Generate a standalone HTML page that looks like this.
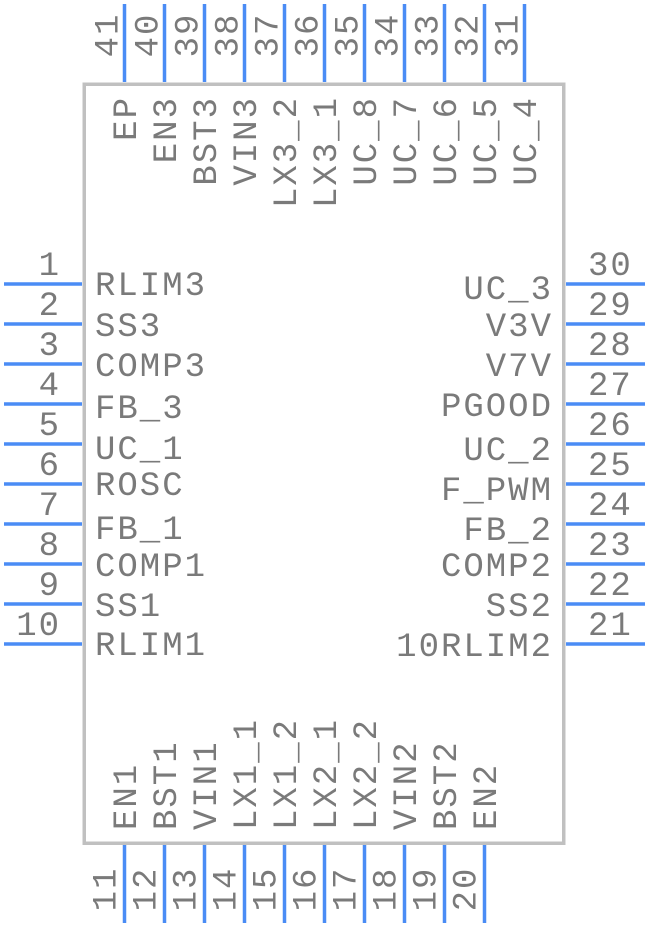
<!DOCTYPE html>
<html>
<head>
<meta charset="utf-8">
<style>
  html,body{margin:0;padding:0;background:#fff;}
  svg{display:block;}
  text{font-family:"Liberation Mono","DejaVu Sans Mono",monospace;font-size:34px;fill:#7a7a7a;letter-spacing:2px;}
</style>
</head>
<body>
<svg width="648" height="928" viewBox="0 0 648 928" xmlns="http://www.w3.org/2000/svg">
  <rect x="84.25" y="84.25" width="479.5" height="759" fill="none" stroke="#c0c0c0" stroke-width="3.5"/>

  <g stroke="#4a8cf5" stroke-width="3.5">
    <line x1="4" y1="284" x2="82" y2="284"/>
    <line x1="4" y1="324" x2="82" y2="324"/>
    <line x1="4" y1="364" x2="82" y2="364"/>
    <line x1="4" y1="404" x2="82" y2="404"/>
    <line x1="4" y1="444" x2="82" y2="444"/>
    <line x1="4" y1="484" x2="82" y2="484"/>
    <line x1="4" y1="524" x2="82" y2="524"/>
    <line x1="4" y1="564" x2="82" y2="564"/>
    <line x1="4" y1="604" x2="82" y2="604"/>
    <line x1="4" y1="644" x2="82" y2="644"/>
    <line x1="566" y1="284" x2="645" y2="284"/>
    <line x1="566" y1="324" x2="645" y2="324"/>
    <line x1="566" y1="364" x2="645" y2="364"/>
    <line x1="566" y1="404" x2="645" y2="404"/>
    <line x1="566" y1="444" x2="645" y2="444"/>
    <line x1="566" y1="484" x2="645" y2="484"/>
    <line x1="566" y1="524" x2="645" y2="524"/>
    <line x1="566" y1="564" x2="645" y2="564"/>
    <line x1="566" y1="604" x2="645" y2="604"/>
    <line x1="566" y1="644" x2="645" y2="644"/>
    <line x1="124.5" y1="4" x2="124.5" y2="82"/>
    <line x1="164.5" y1="4" x2="164.5" y2="82"/>
    <line x1="204.5" y1="4" x2="204.5" y2="82"/>
    <line x1="244.5" y1="4" x2="244.5" y2="82"/>
    <line x1="284.5" y1="4" x2="284.5" y2="82"/>
    <line x1="324.5" y1="4" x2="324.5" y2="82"/>
    <line x1="364.5" y1="4" x2="364.5" y2="82"/>
    <line x1="404.5" y1="4" x2="404.5" y2="82"/>
    <line x1="444.5" y1="4" x2="444.5" y2="82"/>
    <line x1="484.5" y1="4" x2="484.5" y2="82"/>
    <line x1="524.5" y1="4" x2="524.5" y2="82"/>
    <line x1="124.5" y1="845" x2="124.5" y2="923"/>
    <line x1="164.5" y1="845" x2="164.5" y2="923"/>
    <line x1="204.5" y1="845" x2="204.5" y2="923"/>
    <line x1="244.5" y1="845" x2="244.5" y2="923"/>
    <line x1="284.5" y1="845" x2="284.5" y2="923"/>
    <line x1="324.5" y1="845" x2="324.5" y2="923"/>
    <line x1="364.5" y1="845" x2="364.5" y2="923"/>
    <line x1="404.5" y1="845" x2="404.5" y2="923"/>
    <line x1="444.5" y1="845" x2="444.5" y2="923"/>
    <line x1="484.5" y1="845" x2="484.5" y2="923"/>
  </g>

  <g text-anchor="end">
    <text x="61" y="275">1</text>
    <text x="61" y="315">2</text>
    <text x="61" y="355">3</text>
    <text x="61" y="395">4</text>
    <text x="61" y="435">5</text>
    <text x="61" y="475">6</text>
    <text x="61" y="515">7</text>
    <text x="61" y="555">8</text>
    <text x="61" y="595">9</text>
    <text x="61" y="635">10</text>
  </g>

  <g text-anchor="start">
    <text x="95" y="295">RLIM3</text>
    <text x="95" y="336">SS3</text>
    <text x="95" y="376">COMP3</text>
    <text x="95" y="418">FB_3</text>
    <text x="95" y="459">UC_1</text>
    <text x="95" y="495">ROSC</text>
    <text x="95" y="539">FB_1</text>
    <text x="95" y="576">COMP1</text>
    <text x="95" y="616">SS1</text>
    <text x="95" y="655">RLIM1</text>
  </g>

  <g text-anchor="start">
    <text x="588" y="275">30</text>
    <text x="588" y="315">29</text>
    <text x="588" y="355">28</text>
    <text x="588" y="395">27</text>
    <text x="588" y="435">26</text>
    <text x="588" y="475">25</text>
    <text x="588" y="515">24</text>
    <text x="588" y="555">23</text>
    <text x="588" y="595">22</text>
    <text x="588" y="635">21</text>
  </g>

  <g text-anchor="end">
    <text x="553" y="299">UC_3</text>
    <text x="553" y="336">V3V</text>
    <text x="553" y="376">V7V</text>
    <text x="553" y="416">PGOOD</text>
    <text x="553" y="460">UC_2</text>
    <text x="553" y="500">F_PWM</text>
    <text x="553" y="540">FB_2</text>
    <text x="553" y="576">COMP2</text>
    <text x="553" y="616">SS2</text>
    <text x="553" y="656">10RLIM2</text>
  </g>

  <g text-anchor="middle">
    <text transform="translate(117.5,35) rotate(-90)">41</text>
    <text transform="translate(157.5,35) rotate(-90)">40</text>
    <text transform="translate(197.5,35) rotate(-90)">39</text>
    <text transform="translate(237.5,35) rotate(-90)">38</text>
    <text transform="translate(277.5,35) rotate(-90)">37</text>
    <text transform="translate(317.5,35) rotate(-90)">36</text>
    <text transform="translate(357.5,35) rotate(-90)">35</text>
    <text transform="translate(397.5,35) rotate(-90)">34</text>
    <text transform="translate(437.5,35) rotate(-90)">33</text>
    <text transform="translate(477.5,35) rotate(-90)">32</text>
    <text transform="translate(517.5,35) rotate(-90)">31</text>
  </g>

  <g text-anchor="end">
    <text transform="translate(136,96) rotate(-90)">EP</text>
    <text transform="translate(176,96) rotate(-90)">EN3</text>
    <text transform="translate(216,96) rotate(-90)">BST3</text>
    <text transform="translate(256,96) rotate(-90)">VIN3</text>
    <text transform="translate(296,96) rotate(-90)">LX3_2</text>
    <text transform="translate(336,96) rotate(-90)">LX3_1</text>
    <text transform="translate(376,96) rotate(-90)">UC_8</text>
    <text transform="translate(416,96) rotate(-90)">UC_7</text>
    <text transform="translate(456,96) rotate(-90)">UC_6</text>
    <text transform="translate(496,96) rotate(-90)">UC_5</text>
    <text transform="translate(536,96) rotate(-90)">UC_4</text>
  </g>

  <g text-anchor="start">
    <text transform="translate(136,830) rotate(-90)">EN1</text>
    <text transform="translate(176,830) rotate(-90)">BST1</text>
    <text transform="translate(216,830) rotate(-90)">VIN1</text>
    <text transform="translate(256,830) rotate(-90)">LX1_1</text>
    <text transform="translate(296,830) rotate(-90)">LX1_2</text>
    <text transform="translate(336,830) rotate(-90)">LX2_1</text>
    <text transform="translate(376,830) rotate(-90)">LX2_2</text>
    <text transform="translate(416,830) rotate(-90)">VIN2</text>
    <text transform="translate(456,830) rotate(-90)">BST2</text>
    <text transform="translate(496,830) rotate(-90)">EN2</text>
  </g>

  <g text-anchor="middle">
    <text transform="translate(115.5,889) rotate(-90)">11</text>
    <text transform="translate(155.5,889) rotate(-90)">12</text>
    <text transform="translate(195.5,889) rotate(-90)">13</text>
    <text transform="translate(235.5,889) rotate(-90)">14</text>
    <text transform="translate(275.5,889) rotate(-90)">15</text>
    <text transform="translate(315.5,889) rotate(-90)">16</text>
    <text transform="translate(355.5,889) rotate(-90)">17</text>
    <text transform="translate(395.5,889) rotate(-90)">18</text>
    <text transform="translate(435.5,889) rotate(-90)">19</text>
    <text transform="translate(475.5,889) rotate(-90)">20</text>
  </g>
</svg>
</body>
</html>
